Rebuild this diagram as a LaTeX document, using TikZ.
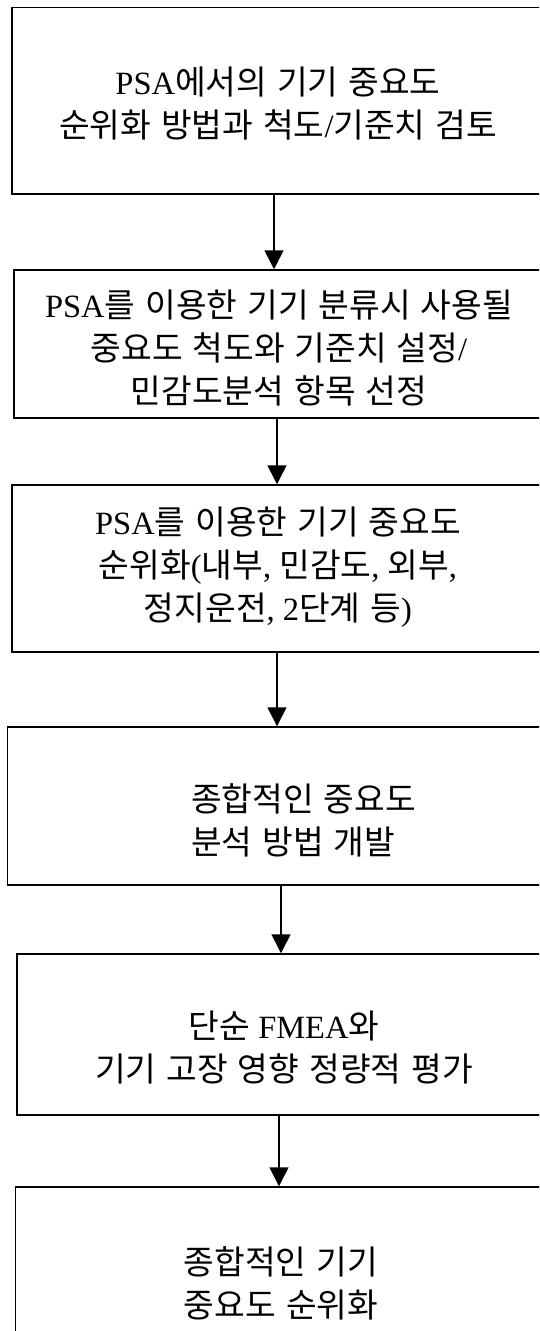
\documentclass[tikz,border=0pt]{standalone}
\usepackage{fontspec}
\setmainfont{Liberation Serif}[Scale=1.12]
\newfontfamily\krf{Noto Sans CJK KR}[Scale=1.15]
\newcommand\h[1]{{\krf\spaceskip=.3em\relax #1}}
\usetikzlibrary{arrows.meta}
\begin{document}
\begin{tikzpicture}[x=1pt,y=-1pt,
  box/.style={draw,line width=1.5pt,rectangle,inner sep=0pt},
  txt/.style={inner sep=0pt,align=center,font=\fontsize{29}{43}\selectfont},
  arr/.style={line width=1.5pt,-{Triangle[width=19pt,length=19pt]}}]
\useasboundingbox (0,0) rectangle (539,1331);
\clip (0,0) rectangle (539,1331);
\node[box,minimum width=536pt,minimum height=186.5pt] (b1) at (280,100.75) {};
\node[box,minimum width=534pt,minimum height=148pt] (b2) at (281,344) {};
\node[box,minimum width=536pt,minimum height=167pt] (b3) at (280,568.5) {};
\node[box,minimum width=540.5pt,minimum height=158pt] (b4) at (277.75,806) {};
\node[box,minimum width=531pt,minimum height=161pt] (b5) at (282.5,1034.5) {};
\node[box,minimum width=532.5pt,minimum height=158pt] (b6) at (281.75,1266) {};
\node[txt] (t1) at (278,104) {PSA\h{에서의 기기 중요도}\\\h{순위화 방법과 척도}/\h{기준치 검토}};
\node[txt] (t2) at (279,348) {PSA\h{를 이용한 기기 분류시 사용될}\\\h{중요도 척도와 기준치 설정}/\\\h{민감도분석 항목 선정}};
\node[txt] (t3) at (278,567) {PSA\h{를 이용한 기기 중요도}\\\h{순위화}(\h{내부}, \h{민감도}, \h{외부},\\\h{정지운전}, 2\h{단계 등})};
\node[txt,align=left,anchor=west] (t4) at (191,820) {\h{종합적인 중요도}\\\h{분석 방법 개발}};
\node[txt] (t5) at (284,1047) {\h{단순} FMEA\h{와}\\\h{기기 고장 영향 정량적 평가}};
\node[txt] (t6) at (281,1283) {\h{종합적인 기기}\\\h{중요도 순위화}};
\coordinate (x1) at (274,0);
\coordinate (x2) at (277,0);
\coordinate (x3) at (277,0);
\coordinate (x4) at (281,0);
\coordinate (x5) at (279,0);
\draw[arr] (b1.south -| x1) -- (b2.north -| x1);
\draw[arr] (b2.south -| x2) -- (b3.north -| x2);
\draw[arr] (b3.south -| x3) -- (b4.north -| x3);
\draw[arr] (b4.south -| x4) -- (b5.north -| x4);
\draw[arr] (b5.south -| x5) -- (b6.north -| x5);
\end{tikzpicture}
\end{document}
